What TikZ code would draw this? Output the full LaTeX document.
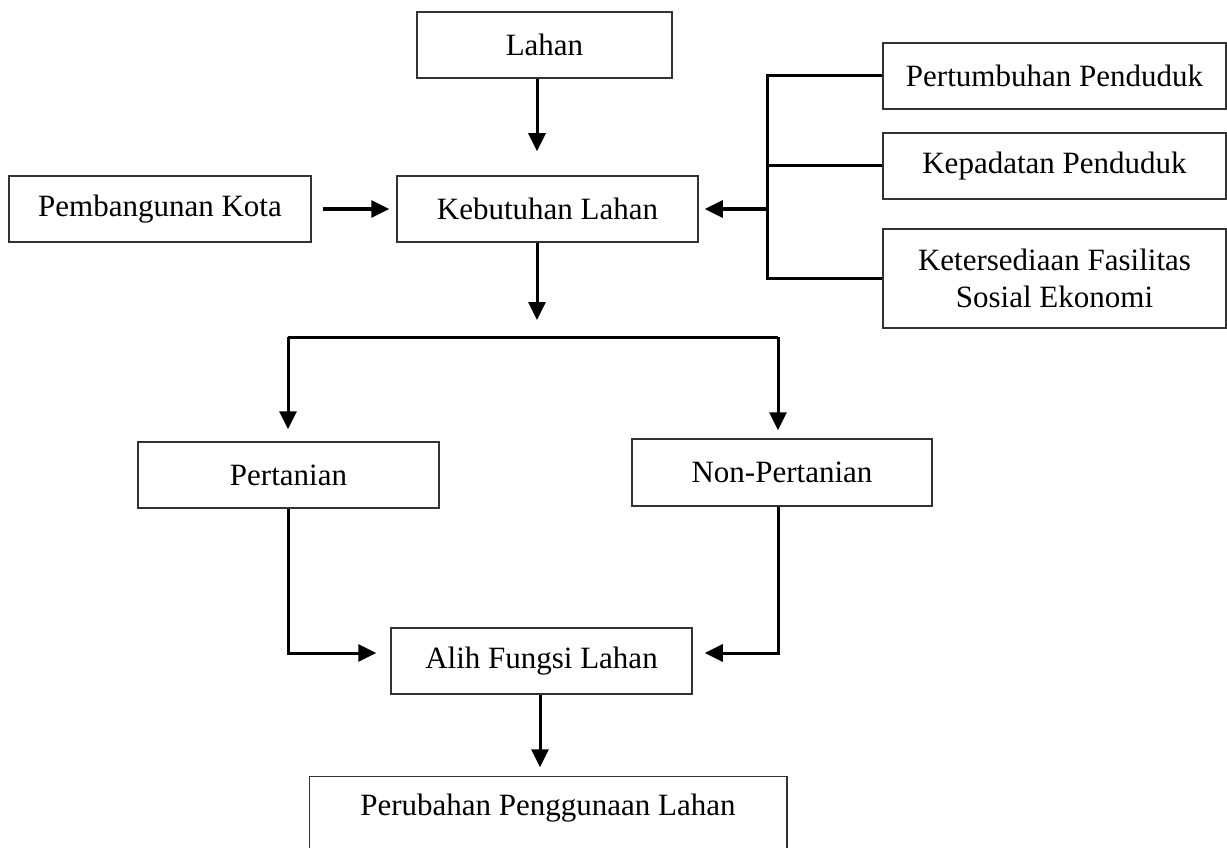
\documentclass[tikz,border=0pt]{standalone}
\usepackage{fontspec}
\setmainfont{Liberation Serif}
\usetikzlibrary{arrows.meta}
\begin{document}
\begin{tikzpicture}[x=1pt,y=-1pt,
  box/.style={draw=black!80, line width=1.5pt, minimum height=66pt, inner sep=2pt,
    font=\fontsize{31}{37}\selectfont, align=center},
  conn/.style={line width=3pt, black},
  arr/.style={conn, -{Triangle[length=18pt,width=17pt]}}]
\clip (0,0) rectangle (1227,848);
\fill[white] (0,0) rectangle (1227,848);
% nodes
\node[box, minimum width=255pt] (lahan) at (544.5,45) {Lahan};
\node[box, minimum width=302pt] (pemb) at (160,209) {Pembangunan Kota};
\node[box, minimum width=301pt] (keb) at (547.5,209) {Kebutuhan Lahan};
\node[box, minimum width=343pt] (pertum) at (1054.5,76) {Pertumbuhan Penduduk};
\node[box, minimum width=343pt] (kepa) at (1054.5,166) {Kepadatan Penduduk};
\node[box, minimum width=343pt, minimum height=99pt] (keta) at (1054.5,278.5) {Ketersediaan Fasilitas\\Sosial Ekonomi};
\node[box, minimum width=301pt] (pert) at (288.5,475) {Pertanian};
\node[box, minimum width=300pt, minimum height=67pt] (non) at (782,472.5) {Non-Pertanian};
\node[box, minimum width=301pt] (alih) at (541.5,661) {Alih Fungsi Lahan};
\node[box, draw=none, minimum width=476pt, minimum height=62pt] (perub) at (548,808) {Perubahan Penggunaan Lahan};
\draw[draw=black!80, line width=1.5pt] ([yshift=-80pt]perub.north west) -- (perub.north west) -- (perub.north east) -- ([yshift=-80pt]perub.north east);
% helper coordinates
\coordinate (A) at (537,0);
\coordinate (B) at (767,0);
\coordinate (L) at (288,337);
\coordinate (R) at (778,337);
\coordinate (D) at (540,0);
\coordinate (E) at (0,653);
% connectors
\draw[arr, shorten >=24pt] (lahan.south -| A) -- (keb.north -| A);
\draw[arr, shorten <=11pt, shorten >=7pt] (pemb.east) -- (keb.west);
\draw[conn] (pertum.west) -- (pertum.west -| B) -- (keta.west -| B) -- (keta.west);
\draw[conn] (kepa.west) -- (kepa.west -| B);
\draw[arr, shorten >=6pt] (keb.east -| B) -- (keb.east);
\draw[arr, shorten >=17pt] (keb.south -| A) -- (L -| A);
\draw[conn] (L) -- (R);
\draw[arr, shorten >=12pt] (L) -- (L |- pert.north);
\draw[arr, shorten >=8pt] (R) -- (R |- non.north);
\draw[arr, shorten >=14pt] (pert.south -| L) |- (alih.west |- E);
\draw[arr, shorten >=12pt] (non.south -| R) |- (alih.east |- E);
\draw[arr, shorten >=9pt] (alih.south -| D) -- (perub.north -| D);
\end{tikzpicture}
\end{document}
